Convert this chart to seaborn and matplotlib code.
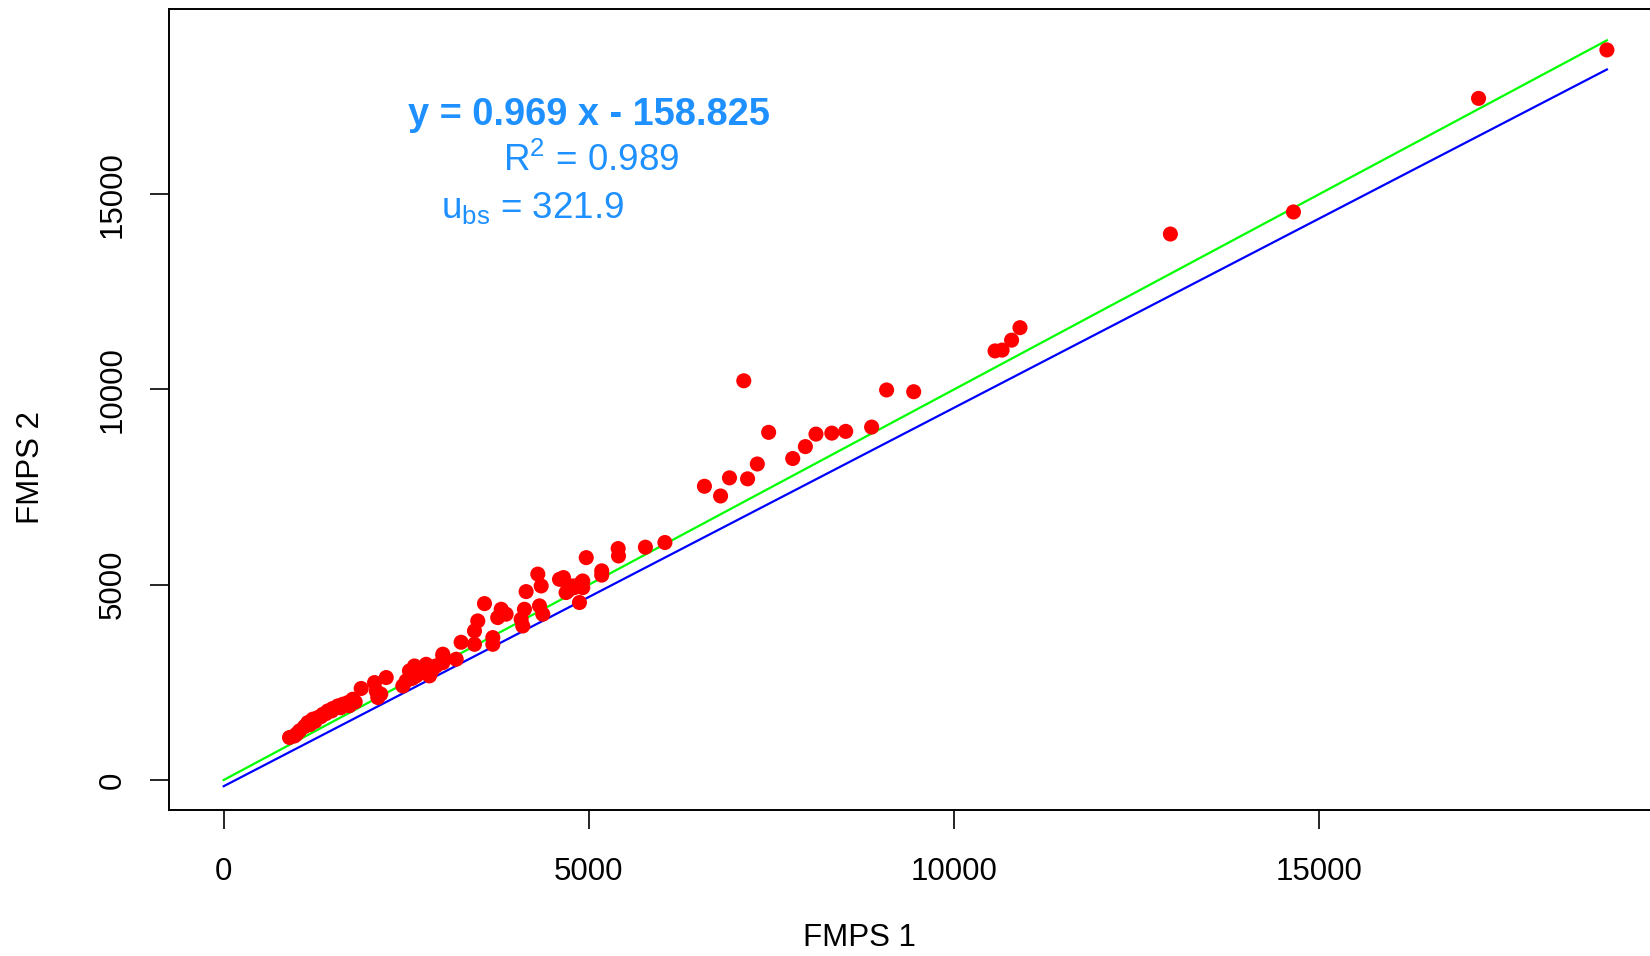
import numpy as np
import pandas as pd
import matplotlib
matplotlib.use("Agg")
import matplotlib.pyplot as plt
import seaborn as sns

# ---- data ----
fmps1 = [18936, 17179, 14645, 12960, 10901, 10786, 10656, 10560, 9446, 9075,
         8870, 8515, 8325, 8108, 7963, 7790, 7460, 7305, 7172, 7120,
         6924, 6802, 6581, 6040, 5773, 5400, 5405, 5175, 5175, 4963,
         4641, 4801, 4915, 4915, 4687, 4870, 4300, 4597, 4651, 4346,
         4140, 4893, 4778, 4710, 3570, 3799, 3866, 3751, 4117, 4072,
         4094, 4323, 4368, 3478, 3433, 3250, 3433, 3684, 3684, 3000,
         3183, 901, 969, 1038, 1106, 1152, 1220, 1289, 1357, 1426,
         1493, 1562, 1631, 1699, 1767, 1882, 2065, 2225, 2110, 2088,
         2498, 2543, 2612, 2636, 2703, 2772, 2817, 2909, 3000, 3000,
         2452, 1000, 1180, 1250, 1330, 1400, 1480, 1600, 1720, 1800,
         2150, 2700, 2580, 2850]
fmps2 = [18690, 17450, 14542, 13977, 11580, 11260, 11006, 10985, 9940, 9985,
         9035, 8925, 8880, 8855, 8535, 8230, 8900, 8090, 7710, 10220,
         7735, 7271, 7520, 6080, 5960, 5925, 5736, 5355, 5245, 5693,
         5138, 4925, 5095, 4925, 4799, 4543, 5271, 5138, 5182, 4968,
         4823, 5049, 4968, 4839, 4516, 4371, 4245, 4158, 4371, 4115,
         3943, 4458, 4245, 4072, 3816, 3526, 3474, 3646, 3474, 3221,
         3092, 1088, 1128, 1258, 1368, 1470, 1557, 1600, 1683, 1769,
         1831, 1896, 1939, 1982, 2068, 2343, 2494, 2623, 2111, 2276,
         2537, 2793, 2919, 2666, 2750, 2962, 2666, 2922, 3175, 3005,
         2407, 1180, 1420, 1500, 1620, 1700, 1770, 1850, 1900, 2000,
         2200, 2850, 2600, 2800]

slope = 0.969
intercept = -158.825
r2 = 0.989
ubs = 321.9
x_ticks = [0, 5000, 10000, 15000]
y_ticks = [0, 5000, 10000, 15000]
x_label = "FMPS 1"
y_label = "FMPS 2"

# ---- style ----
plt.rcParams["font.family"] = ["Liberation Sans", "DejaVu Sans"]
plt.rcParams["mathtext.fontset"] = "custom"
plt.rcParams["mathtext.rm"] = "Liberation Sans"
plt.rcParams["mathtext.it"] = "Liberation Sans"
plt.rcParams["mathtext.bf"] = "Liberation Sans:bold"
plt.rcParams["mathtext.default"] = "regular"

fig = plt.figure(figsize=(16.5, 9.56), dpi=100)
ax = fig.add_axes([169 / 1650, 1 - 810 / 956, 1 - 169 / 1650, (810 - 9) / 956])

df = pd.DataFrame({"x": fmps1, "y": fmps2})
xmax = max(fmps1)
lines = pd.DataFrame({
    "x": [0, xmax],
    "one": [0, xmax],
    "fit": [intercept, slope * xmax + intercept],
})

sns.lineplot(data=lines, x="x", y="one", color="#00FF00", linewidth=1.6, ax=ax, zorder=2)
sns.lineplot(data=lines, x="x", y="fit", color="#0000FF", linewidth=1.6, ax=ax, zorder=2)
sns.scatterplot(data=df, x="x", y="y", color="#FF0000", s=118, edgecolor="none",
                linewidth=0, ax=ax, zorder=3)

ax.set_xlim(-749, 19526)
ax.set_ylim(-768, 19738)
ax.set_xticks(x_ticks)
ax.set_yticks(y_ticks)
ax.set_xticklabels([str(t) for t in x_ticks])
ax.set_yticklabels([str(t) for t in y_ticks])
ax.tick_params(axis="both", direction="out", length=13.5, width=1.2, labelsize=22.5,
               color="black", labelcolor="black")
ax.tick_params(axis="x", pad=20)
ax.tick_params(axis="y", pad=16, labelrotation=90)
for lab in ax.get_yticklabels():
    lab.set_va("center")
    lab.set_ha("right")

for side in ["left", "top", "bottom"]:
    ax.spines[side].set_linewidth(1.4)
    ax.spines[side].set_color("black")
ax.spines["right"].set_visible(False)

ax.set_xlabel(x_label, fontsize=22.5)
ax.set_ylabel(y_label, fontsize=22.5)
ax.xaxis.set_label_coords((859 - 169) / 1481, (810 - 938) / 801)
ax.xaxis.label.set_va("center")
ax.yaxis.set_label_coords((31 - 169) / 1481, (810 - 468) / 801)
ax.yaxis.label.set_va("center")

txt_color = "#1E90FF"
ax.text(5001, 16768, f"y = {slope:.3f} x - {abs(intercept):.3f}", color=txt_color,
        fontsize=27.4, fontweight="bold", ha="center", va="baseline")
ax.text(5029, 15598, r"R$^{2}$ = " + f"{r2:.3f}", color=txt_color,
        fontsize=26.5, ha="center", va="baseline")
ax.text(4234, 14387, r"u$_{bs}$ = " + f"{ubs:.1f}", color=txt_color,
        fontsize=26.5, ha="center", va="baseline")

fig.savefig("out.png", dpi=100, facecolor="white")
